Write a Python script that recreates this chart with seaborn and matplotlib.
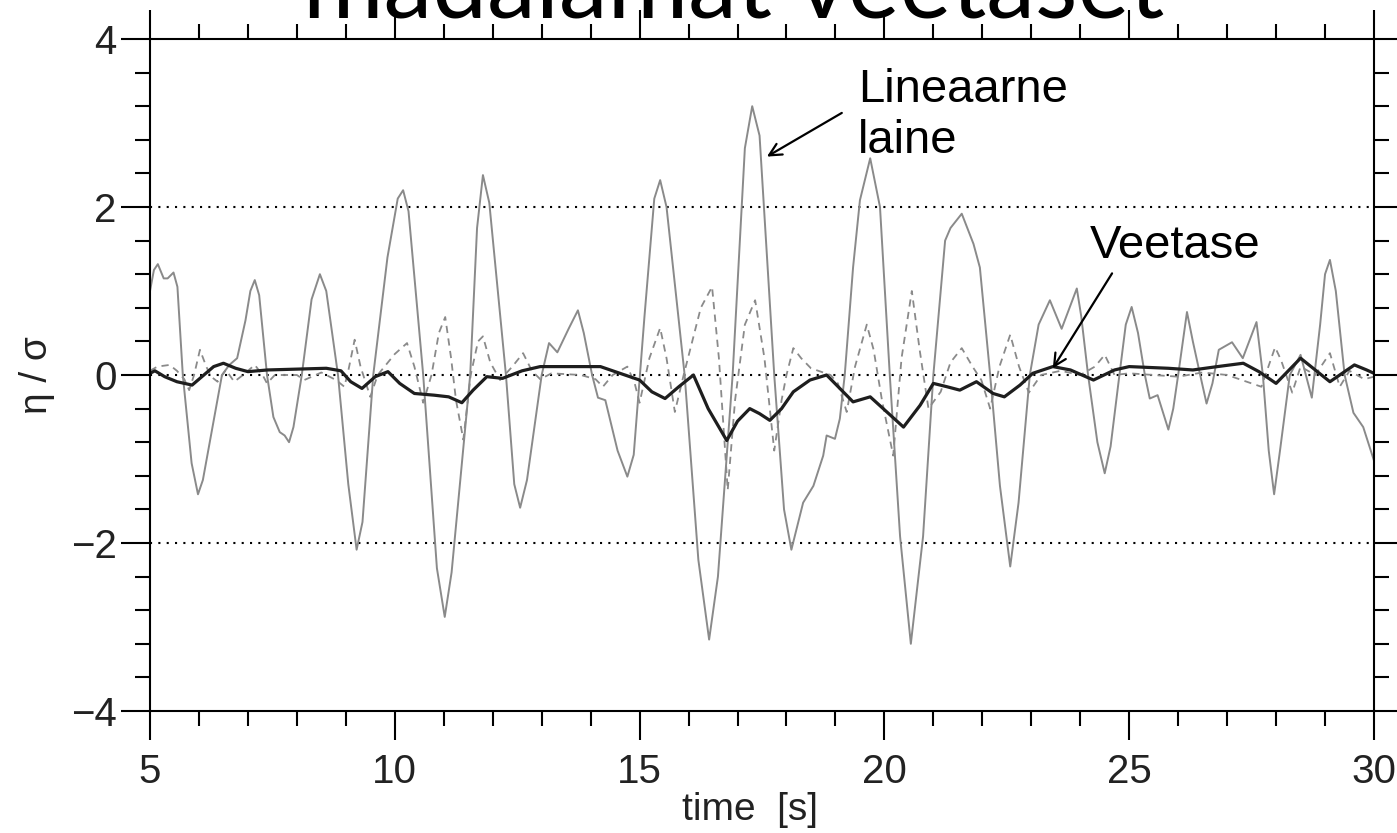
import seaborn as sns
import matplotlib.pyplot as plt
from matplotlib.ticker import MultipleLocator

# linear wave (thin grey line)
t_lin = [5.00, 5.08, 5.16, 5.28, 5.36, 5.48, 5.56, 5.67, 5.85, 5.98, 6.08, 6.47,
         6.62, 6.78, 6.95, 7.05, 7.14, 7.23, 7.39, 7.52, 7.65, 7.75, 7.84, 7.93,
         8.10, 8.30, 8.47, 8.60, 8.84, 9.05, 9.22, 9.34, 9.56, 9.85, 10.06, 10.17,
         10.28, 10.58, 10.86, 11.02, 11.16, 11.54, 11.68, 11.80, 11.93, 12.27, 12.44,
         12.56, 12.70, 13.00, 13.15, 13.32, 13.55, 13.74, 13.86, 14.03, 14.15, 14.30,
         14.55, 14.75, 14.88, 15.10, 15.30, 15.42, 15.55, 15.92, 16.20, 16.42, 16.60,
         16.90, 17.15, 17.30, 17.45, 17.75, 17.95, 18.10, 18.34, 18.55, 18.75, 18.82,
         18.99, 19.09, 19.19, 19.36, 19.50, 19.71, 19.91, 20.11, 20.32, 20.54, 20.79,
         21.00, 21.24, 21.35, 21.58, 21.82, 21.95, 22.16, 22.36, 22.57, 22.74, 22.97,
         23.15, 23.38, 23.62, 23.93, 24.02, 24.16, 24.35, 24.50, 24.62, 24.80, 24.93,
         25.05, 25.18, 25.32, 25.42, 25.58, 25.80, 25.90, 26.00, 26.18, 26.30, 26.45,
         26.58, 26.70, 26.83, 27.10, 27.32, 27.60, 27.73, 27.85, 27.96, 28.08, 28.28,
         28.50, 28.73, 28.90, 29.00, 29.10, 29.22, 29.40, 29.58, 29.78, 30.00]
eta_lin = [1.00, 1.25, 1.32, 1.15, 1.15, 1.22, 1.05, 0.00, -1.05, -1.42, -1.25, 0.00,
           0.12, 0.20, 0.65, 1.00, 1.13, 0.95, 0.00, -0.50, -0.68, -0.72, -0.80, -0.62,
           0.00, 0.90, 1.20, 1.00, 0.00, -1.30, -2.08, -1.75, 0.00, 1.40, 2.10, 2.20,
           1.95, 0.00, -2.30, -2.88, -2.35, 0.00, 1.75, 2.38, 2.05, 0.00, -1.30,
           -1.58, -1.25, 0.00, 0.38, 0.27, 0.55, 0.77, 0.50, 0.00, -0.27, -0.30,
           -0.90, -1.21, -0.95, 0.70, 2.10, 2.32, 2.00, 0.00, -2.20, -3.15, -2.40,
           0.00, 2.70, 3.20, 2.85, 0.00, -1.60, -2.08, -1.52, -1.32, -0.96, -0.72,
           -0.76, -0.52, 0.00, 1.28, 2.08, 2.58, 2.00, 0.00, -1.92, -3.20, -1.92,
           0.00, 1.60, 1.75, 1.92, 1.56, 1.28, 0.00, -1.32, -2.28, -1.52, 0.00,
           0.60, 0.89, 0.55, 1.03, 0.70, 0.00, -0.80, -1.17, -0.85, 0.00, 0.60,
           0.81, 0.50, 0.00, -0.28, -0.24, -0.65, -0.40, 0.00, 0.75, 0.40, 0.00,
           -0.34, -0.10, 0.30, 0.39, 0.20, 0.63, 0.00, -0.90, -1.42, -0.90, 0.00,
           0.24, -0.27, 0.60, 1.20, 1.37, 1.00, 0.00, -0.45, -0.62, -1.02]

# dashed grey line
t_dash = [5.00, 5.15, 5.40, 5.55, 5.70, 5.80, 5.90, 6.02, 6.15, 6.25, 6.38, 6.55,
          6.72, 6.90, 7.14, 7.30, 7.39, 7.55, 8.00, 8.15, 8.50, 8.80, 8.97, 9.05,
          9.18, 9.30, 9.50, 9.65, 10.00, 10.25, 10.40, 10.58, 10.75, 10.90, 11.03,
          11.15, 11.25, 11.40, 11.55, 11.70, 11.80, 11.95, 12.15, 12.40, 12.62, 12.80,
          12.97, 13.20, 13.80, 14.10, 14.25, 14.45, 14.75, 14.90, 15.00, 15.20, 15.42,
          15.55, 15.72, 15.90, 16.25, 16.48, 16.62, 16.80, 16.95, 17.15, 17.36, 17.55,
          17.75, 17.90, 18.00, 18.14, 18.30, 18.50, 18.90, 19.05, 19.23, 19.40, 19.64,
          19.78, 19.95, 20.18, 20.35, 20.56, 20.72, 20.90, 21.15, 21.35, 21.58, 21.80,
          21.98, 22.16, 22.35, 22.57, 22.75, 22.95, 23.20, 23.60, 24.00, 24.30, 24.50,
          24.70, 25.00, 26.00, 26.50, 27.00, 27.70, 27.98, 28.10, 28.33, 28.50, 28.80,
          29.10, 29.30, 29.50, 29.80, 30.00]
eta_dash = [0.05, 0.10, 0.12, 0.05, -0.05, -0.18, 0.00, 0.30, 0.10, -0.02, -0.08, 0.06,
            -0.08, 0.00, 0.12, 0.00, -0.10, 0.00, 0.00, -0.06, 0.03, -0.06, -0.14, 0.05,
            0.42, 0.10, -0.26, 0.00, 0.25, 0.38, 0.10, -0.33, 0.00, 0.50, 0.69,
            0.20, -0.30, -0.77, 0.00, 0.40, 0.46, 0.15, -0.06, 0.10, 0.26, 0.05,
            -0.05, 0.02, 0.00, -0.05, -0.14, 0.00, 0.10, -0.10, -0.33, 0.20, 0.56,
            0.20, -0.44, 0.00, 0.80, 1.05, 0.20, -1.37, -0.30, 0.60, 0.89, 0.20,
            -0.90, -0.30, 0.00, 0.32, 0.20, 0.08, 0.00, -0.10, -0.44, 0.10, 0.60,
            0.30, -0.30, -0.96, 0.20, 1.00, 0.30, -0.40, -0.20, 0.15, 0.32, 0.10,
            -0.06, -0.40, 0.10, 0.48, 0.10, -0.21, 0.00, 0.05, 0.00, 0.10, 0.24,
            0.00, 0.02, -0.02, 0.03, 0.00, -0.14, 0.33, 0.18, -0.21, 0.10, 0.00,
            0.26, -0.14, 0.05, -0.05, -0.02]

# water level (thick dark line)
t_surf = [5.00, 5.10, 5.30, 5.55, 5.86, 6.10, 6.30, 6.50, 6.75, 7.00, 7.40, 8.00,
          8.60, 8.90, 9.10, 9.33, 9.60, 9.86, 10.10, 10.40, 10.80, 11.10, 11.37, 11.60,
          11.88, 12.20, 12.60, 12.97, 13.50, 14.20, 14.60, 15.00, 15.25, 15.52, 15.80,
          16.10, 16.40, 16.78, 17.00, 17.25, 17.45, 17.66, 17.90, 18.14, 18.48, 18.82,
          19.09, 19.36, 19.71, 20.05, 20.39, 20.73, 21.00, 21.28, 21.54, 21.88, 22.22,
          22.45, 22.77, 23.03, 23.44, 23.80, 24.27, 24.70, 25.00, 25.80, 26.30, 26.80,
          27.33, 27.65, 28.00, 28.25, 28.50, 28.80, 29.10, 29.35, 29.60, 29.85, 30.00]
eta_surf = [0.02, 0.05, -0.02, -0.08, -0.12, 0.00, 0.10, 0.14, 0.08, 0.04, 0.06, 0.07,
            0.08, 0.05, -0.08, -0.16, -0.02, 0.04, -0.10, -0.22, -0.24, -0.26, -0.33, -0.18,
            -0.02, -0.04, 0.05, 0.10, 0.10, 0.10, 0.02, -0.06, -0.20, -0.28, -0.14,
            0.00, -0.40, -0.78, -0.55, -0.40, -0.46, -0.54, -0.40, -0.20, -0.06, 0.00,
            -0.16, -0.32, -0.26, -0.44, -0.62, -0.36, -0.10, -0.14, -0.18, -0.08, -0.22,
            -0.26, -0.12, 0.02, 0.10, 0.06, -0.06, 0.06, 0.10, 0.08, 0.06, 0.10,
            0.14, 0.04, -0.10, 0.05, 0.20, 0.06, -0.08, 0.02, 0.12, 0.06, 0.02]

ref_levels = [2, 0, -2]
x_ticks = [5, 10, 15, 20, 25, 30]
y_ticks = [-4, -2, 0, 2, 4]
title_text = "madalamat veetaset"
label_lin = "Lineaarne\nlaine"
label_surf = "Veetase"

sns.set_style("ticks")
plt.rcParams['font.family'] = ['Liberation Sans', 'DejaVu Sans']

W, H = 1397, 833
fig = plt.figure(figsize=(W / 100, H / 100), dpi=100)
ax = fig.add_axes([150 / W, 122 / H, 1224 / W, 672 / H])

for lev in ref_levels:
    ax.axhline(lev, color='black', lw=1.5, linestyle=(0, (1, 3)), zorder=1)

sns.lineplot(x=t_lin, y=eta_lin, ax=ax, color='#8a8a8a', lw=1.4,
             sort=False, estimator=None, solid_joinstyle='round')
sns.lineplot(x=t_dash, y=eta_dash, ax=ax, color='#8a8a8a', lw=1.3,
             linestyle=(0, (4, 3)), sort=False, estimator=None)
sns.lineplot(x=t_surf, y=eta_surf, ax=ax, color='#1e1e1e', lw=2.3,
             sort=False, estimator=None, solid_joinstyle='round')

ax.set_xlim(5, 30)
ax.set_ylim(-4, 4)
ax.set_xticks(x_ticks)
ax.set_yticks(y_ticks)
ax.xaxis.set_minor_locator(MultipleLocator(1))
ax.yaxis.set_minor_locator(MultipleLocator(0.4))
ax.tick_params(which='both', direction='out', top=True, right=True,
               width=1.5, color='black', labelsize=29, labelcolor='#222222')
ax.tick_params(which='major', length=21)
ax.tick_params(which='minor', length=11)
ax.tick_params(axis='x', which='major', pad=9)
ax.tick_params(axis='y', which='major', pad=3)
for sp in ax.spines.values():
    sp.set_linewidth(1.5)
    sp.set_color('black')

ax.set_xlabel("time  [s]", fontsize=28, color='#222222')
ax.xaxis.set_label_coords(0.49, -0.12)
ax.set_ylabel("η / σ", fontsize=28, color='#222222')
ax.yaxis.set_label_coords(-0.078, 0.5)

# annotations
ax.annotate('', xy=(17.6, 2.6), xytext=(19.13, 3.12),
            arrowprops=dict(arrowstyle='->', color='black', lw=1.6,
                            shrinkA=0, shrinkB=0, mutation_scale=22))
ax.text(19.46, 2.64, label_lin, fontsize=34, ha='left', va='baseline',
        color='black', linespacing=1.2)
ax.annotate('', xy=(23.44, 0.08), xytext=(24.65, 1.21),
            arrowprops=dict(arrowstyle='->', color='black', lw=1.6,
                            shrinkA=0, shrinkB=0, mutation_scale=22))
ax.text(24.2, 1.39, label_surf, fontsize=34, ha='left', va='baseline', color='black')

# slide title, cut off at the top edge as in the original slide
title = fig.text(734 / W, 1 - 18 / H, title_text, ha='center', va='baseline',
                 fontsize=70, family=['Lato', 'DejaVu Sans'], color='black')
fig.canvas.draw()
w = title.get_window_extent().width
title.set_fontsize(70 * 862 / w)

fig.savefig('out.png', dpi=100)
